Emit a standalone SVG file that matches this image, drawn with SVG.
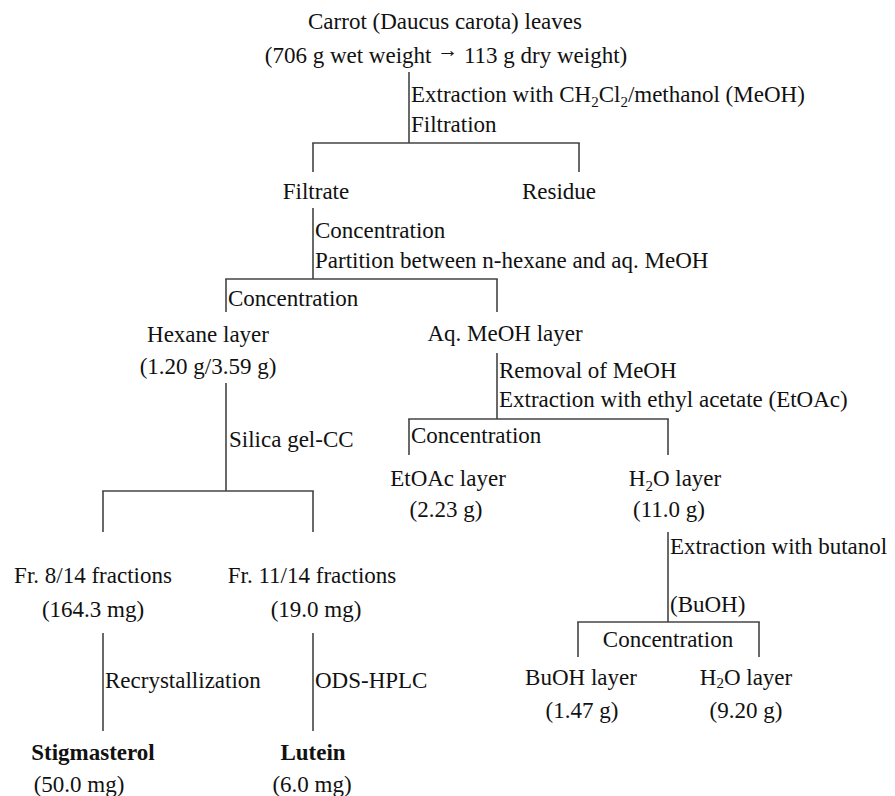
<svg xmlns="http://www.w3.org/2000/svg" width="895" height="796" viewBox="0 0 895 796">
<style>
text { font-family: "Liberation Serif", "Times New Roman", serif; font-size: 23px; fill: #111; }
.c { text-anchor: middle; }
.b { font-weight: bold; }
.sub { font-size: 15px; }
#connectors line { stroke: #444; stroke-width: 1.6; }
</style>
<rect width="895" height="796" fill="#fff"/>
<g id="connectors">
  <line x1="409" y1="72" x2="409" y2="143"/>
  <line x1="312.2" y1="143" x2="579.8" y2="143"/>
  <line x1="313" y1="143" x2="313" y2="172"/>
  <line x1="579" y1="143" x2="579" y2="172"/>
  <line x1="313" y1="208" x2="313" y2="279"/>
  <line x1="225.2" y1="279" x2="497.8" y2="279"/>
  <line x1="226" y1="279" x2="226" y2="312"/>
  <line x1="497" y1="279" x2="497" y2="312"/>
  <line x1="226" y1="383" x2="226" y2="491"/>
  <line x1="102.2" y1="491" x2="313.8" y2="491"/>
  <line x1="103" y1="491" x2="103" y2="532"/>
  <line x1="313" y1="491" x2="313" y2="532"/>
  <line x1="497" y1="353" x2="497" y2="419"/>
  <line x1="408.2" y1="419" x2="668.8" y2="419"/>
  <line x1="409" y1="419" x2="409" y2="455"/>
  <line x1="668" y1="419" x2="668" y2="455"/>
  <line x1="668" y1="532" x2="668" y2="622"/>
  <line x1="577.2" y1="622" x2="759.8" y2="622"/>
  <line x1="578" y1="622" x2="578" y2="657"/>
  <line x1="759" y1="622" x2="759" y2="657"/>
  <line x1="103" y1="633" x2="103" y2="731"/>
  <line x1="313" y1="633" x2="313" y2="731"/>
</g>
<g id="steps">
  <text x="411" y="102">Extraction with CH<tspan class="sub" dy="5">2</tspan><tspan dy="-5">Cl</tspan><tspan class="sub" dy="5">2</tspan><tspan dy="-5">/methanol (MeOH)</tspan></text>
  <text x="411" y="132">Filtration</text>
  <text x="315" y="238">Concentration</text>
  <text x="315" y="268">Partition between n-hexane and aq. MeOH</text>
  <text x="228" y="306">Concentration</text>
  <text x="229" y="447">Silica gel-CC</text>
  <text x="499" y="378">Removal of MeOH</text>
  <text x="499" y="407">Extraction with ethyl acetate (EtOAc)</text>
  <text x="411" y="443">Concentration</text>
  <text x="670" y="554">Extraction with butanol</text>
  <text x="670" y="612">(BuOH)</text>
  <text class="c" x="668" y="647">Concentration</text>
  <text x="105" y="688">Recrystallization</text>
  <text x="315" y="688">ODS-HPLC</text>
</g>
<g id="carrot">
  <text class="c" x="445" y="29">Carrot (Daucus carota) leaves</text>
  <text class="c" x="446" y="63">(706 g wet weight <tspan font-size="21" dy="-6">→</tspan><tspan dy="6"> 113 g dry weight)</tspan></text>
</g>
<g id="filtrate"><text class="c" x="316" y="199">Filtrate</text></g>
<g id="residue"><text class="c" x="559" y="199">Residue</text></g>
<g id="hexane">
  <text class="c" x="208" y="342">Hexane layer</text>
  <text class="c" x="208" y="374">(1.20 g/3.59 g)</text>
</g>
<g id="aqmeoh"><text class="c" x="505" y="341">Aq. MeOH layer</text></g>
<g id="etoac">
  <text class="c" x="448" y="486">EtOAc layer</text>
  <text class="c" x="446" y="517">(2.23 g)</text>
</g>
<g id="h2o1">
  <text class="c" x="675" y="486">H<tspan class="sub" dy="5">2</tspan><tspan dy="-5">O layer</tspan></text>
  <text class="c" x="669" y="517">(11.0 g)</text>
</g>
<g id="fr8">
  <text class="c" x="93" y="583">Fr. 8/14 fractions</text>
  <text class="c" x="93" y="617">(164.3 mg)</text>
</g>
<g id="fr11">
  <text class="c" x="312" y="583">Fr. 11/14 fractions</text>
  <text class="c" x="316" y="617">(19.0 mg)</text>
</g>
<g id="stigmasterol">
  <text class="c b" x="93" y="760">Stigmasterol</text>
  <text class="c" x="79" y="792">(50.0 mg)</text>
</g>
<g id="lutein">
  <text class="c b" x="313" y="760">Lutein</text>
  <text class="c" x="312" y="792">(6.0 mg)</text>
</g>
<g id="buoh">
  <text class="c" x="581" y="685">BuOH layer</text>
  <text class="c" x="582" y="718">(1.47 g)</text>
</g>
<g id="h2o2">
  <text class="c" x="746" y="685">H<tspan class="sub" dy="3">2</tspan><tspan dy="-3">O layer</tspan></text>
  <text class="c" x="746" y="718">(9.20 g)</text>
</g>
</svg>
